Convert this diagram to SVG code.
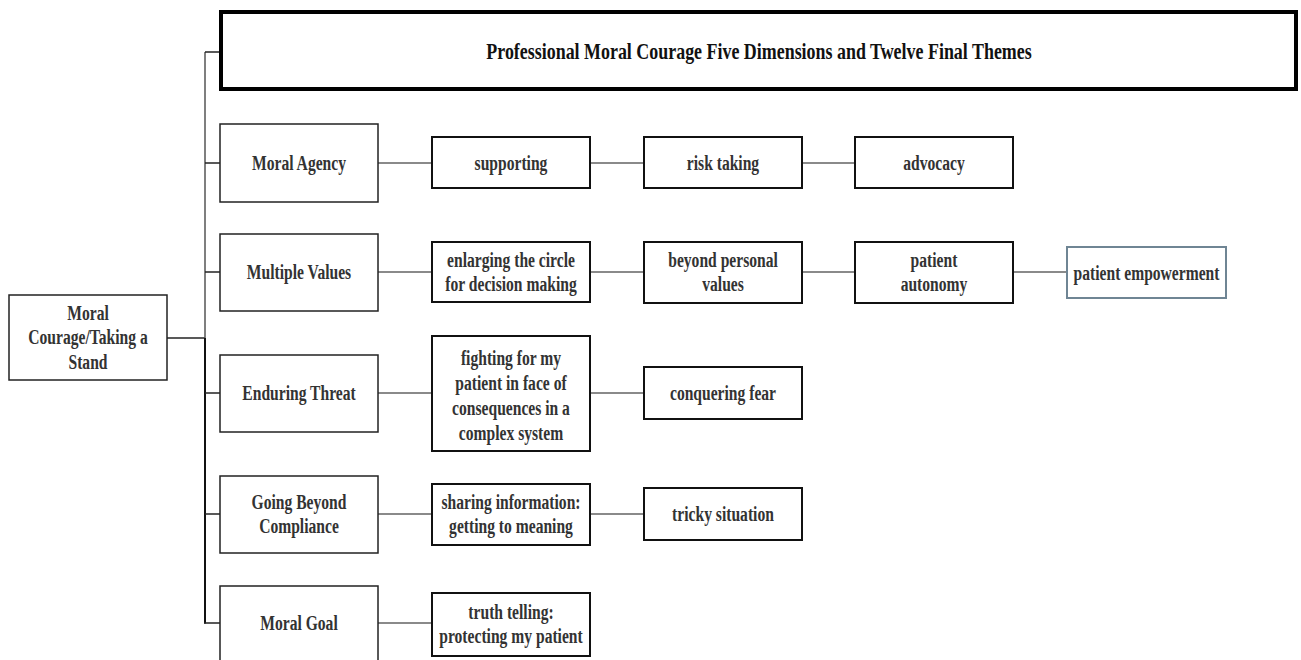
<svg xmlns="http://www.w3.org/2000/svg" width="1301" height="660" viewBox="0 0 1301 660">
<style>
text{font-family:"Liberation Serif","Times New Roman",serif;font-weight:bold;font-size:20px;fill:#333;text-anchor:middle}
.title{font-size:23px;fill:#111}
.b1{fill:#fff;stroke:#222;stroke-width:1.5}
.b2{fill:#fff;stroke:#111;stroke-width:2}
.bt{fill:#fff;stroke:#000;stroke-width:4}
.bg{fill:#fff;stroke:#6f8594;stroke-width:2}
.c{stroke:#8a8a8a;stroke-width:2;fill:none}
.t{stroke:#222;stroke-width:1.5;fill:none}
</style>
<g id="connectors">
<line class="t" x1="167" y1="338" x2="205" y2="338"/>
<line x1="205" y1="52" x2="205" y2="338" stroke="#555" stroke-width="1.5"/>
<line x1="205" y1="338" x2="205" y2="623.5" stroke="#111" stroke-width="2"/>
<line class="t" x1="205" y1="52" x2="221" y2="52"/>
<line class="t" x1="205" y1="163" x2="220" y2="163"/>
<line class="t" x1="205" y1="272" x2="220" y2="272"/>
<line class="t" x1="205" y1="393" x2="220" y2="393"/>
<line class="t" x1="205" y1="514" x2="220" y2="514"/>
<line class="t" x1="204" y1="623" x2="220" y2="623"/>
<line class="c" x1="378" y1="163" x2="432" y2="163"/>
<line class="c" x1="590" y1="163" x2="644" y2="163"/>
<line class="c" x1="802" y1="163" x2="855" y2="163"/>
<line class="c" x1="378" y1="272" x2="432" y2="272"/>
<line class="c" x1="590" y1="272" x2="644" y2="272"/>
<line class="c" x1="802" y1="272" x2="855" y2="272"/>
<line class="c" x1="1013" y1="272" x2="1067" y2="272"/>
<line class="c" x1="378" y1="393" x2="432" y2="393"/>
<line class="c" x1="590" y1="393" x2="644" y2="393"/>
<line class="c" x1="378" y1="514" x2="432" y2="514"/>
<line class="c" x1="590" y1="514" x2="644" y2="514"/>
<line class="c" x1="378" y1="623" x2="432" y2="623"/>
</g>
<g id="root">
<rect class="b1" x="9" y="295" width="158" height="85"/>
<text transform="translate(88,319.5) scale(0.78,1)"><tspan x="0">Moral</tspan><tspan x="0" dy="25">Courage/Taking a</tspan><tspan x="0" dy="25">Stand</tspan></text>
</g>
<g id="title">
<rect class="bt" x="221" y="12" width="1075" height="77"/>
<text class="title" transform="translate(759,58.5) scale(0.78,1)">Professional Moral Courage Five Dimensions and Twelve Final Themes</text>
</g>
<g id="moral-agency">
<rect class="b1" x="220" y="124" width="158" height="78"/>
<text transform="translate(299,170) scale(0.78,1)">Moral Agency</text>
</g>
<g id="supporting">
<rect class="b2" x="432" y="137" width="158" height="51"/>
<text transform="translate(511,170) scale(0.78,1)">supporting</text>
</g>
<g id="risk-taking">
<rect class="b2" x="644" y="137" width="158" height="51"/>
<text transform="translate(723,170) scale(0.78,1)">risk taking</text>
</g>
<g id="advocacy">
<rect class="b2" x="855" y="137" width="158" height="51"/>
<text transform="translate(934,170) scale(0.78,1)">advocacy</text>
</g>
<g id="multiple-values">
<rect class="b1" x="220" y="234" width="158" height="77"/>
<text transform="translate(299,279) scale(0.78,1)">Multiple Values</text>
</g>
<g id="enlarging">
<rect class="b2" x="432" y="242" width="158" height="60"/>
<text transform="translate(511,266.5) scale(0.78,1)"><tspan x="0">enlarging the circle</tspan><tspan x="0" dy="25">for decision making</tspan></text>
</g>
<g id="beyond-personal">
<rect class="b2" x="644" y="242" width="158" height="61"/>
<text transform="translate(723,266.5) scale(0.78,1)"><tspan x="0">beyond personal</tspan><tspan x="0" dy="25">values</tspan></text>
</g>
<g id="patient-autonomy">
<rect class="b2" x="855" y="242" width="158" height="61"/>
<text transform="translate(934,266.5) scale(0.78,1)"><tspan x="0">patient</tspan><tspan x="0" dy="25">autonomy</tspan></text>
</g>
<g id="patient-empowerment">
<rect class="bg" x="1067" y="247" width="159" height="51"/>
<text transform="translate(1146.5,279.5) scale(0.78,1)">patient empowerment</text>
</g>
<g id="enduring-threat">
<rect class="b1" x="220" y="355" width="158" height="77"/>
<text transform="translate(299,400) scale(0.78,1)">Enduring Threat</text>
</g>
<g id="fighting">
<rect class="b2" x="432" y="336" width="158" height="115"/>
<text transform="translate(511,365) scale(0.78,1)"><tspan x="0">fighting for my</tspan><tspan x="0" dy="25">patient in face of</tspan><tspan x="0" dy="25">consequences in a</tspan><tspan x="0" dy="25">complex system</tspan></text>
</g>
<g id="conquering-fear">
<rect class="b2" x="644" y="367" width="158" height="52"/>
<text transform="translate(723,400) scale(0.78,1)">conquering fear</text>
</g>
<g id="going-beyond">
<rect class="b1" x="220" y="476" width="158" height="77"/>
<text transform="translate(299,508.5) scale(0.78,1)"><tspan x="0">Going Beyond</tspan><tspan x="0" dy="25">Compliance</tspan></text>
</g>
<g id="sharing">
<rect class="b2" x="432" y="484" width="158" height="61"/>
<text transform="translate(511,508.5) scale(0.78,1)"><tspan x="0">sharing information:</tspan><tspan x="0" dy="25">getting to meaning</tspan></text>
</g>
<g id="tricky">
<rect class="b2" x="644" y="488" width="158" height="52"/>
<text transform="translate(723,521) scale(0.78,1)">tricky situation</text>
</g>
<g id="moral-goal">
<rect class="b1" x="220" y="586" width="158" height="78"/>
<text transform="translate(299,630) scale(0.78,1)">Moral Goal</text>
</g>
<g id="truth-telling">
<rect class="b2" x="432" y="593" width="158" height="63"/>
<text transform="translate(511,618.5) scale(0.78,1)"><tspan x="0">truth telling:</tspan><tspan x="0" dy="25">protecting my patient</tspan></text>
</g>
</svg>
